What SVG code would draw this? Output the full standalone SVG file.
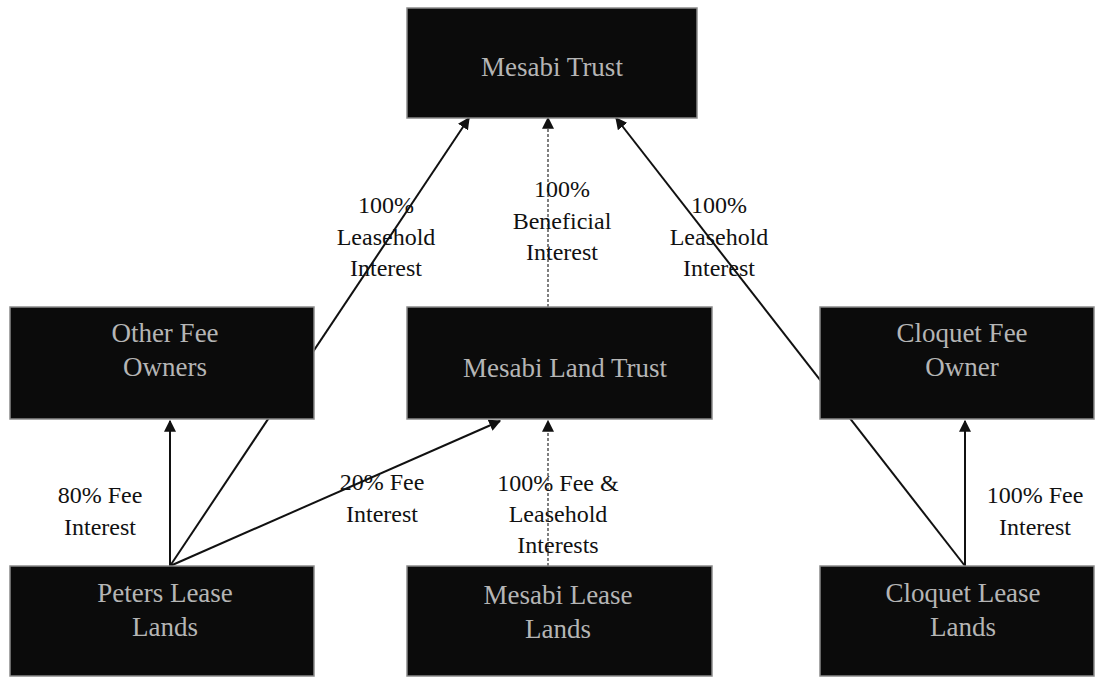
<svg xmlns="http://www.w3.org/2000/svg" width="1098" height="679" viewBox="0 0 1098 679">
<style>
.box{fill:#0b0b0b;stroke:#8a8a8a;stroke-width:1.5}
.bt{font-family:"Liberation Serif","Times New Roman",serif;font-size:27px;fill:#b5b5b5;text-anchor:middle}
.lb{font-family:"Liberation Serif","Times New Roman",serif;font-size:24px;fill:#111;text-anchor:middle}
.ln{stroke:#111;stroke-width:2;fill:none;marker-end:url(#ah)}
.dl{stroke:#555;stroke-width:1.5;stroke-dasharray:3 2;fill:none;marker-end:url(#ah)}
</style>
<defs>
<marker id="ah" viewBox="0 0 10 10" refX="9" refY="5" markerWidth="12" markerHeight="12" markerUnits="userSpaceOnUse" orient="auto">
<path d="M0,0 L10,5 L0,10 z" fill="#111"/>
</marker>
</defs>
<rect width="1098" height="679" fill="#fff"/>
<g id="connectors">
<line class="ln" x1="170" y1="566" x2="469" y2="118"/>
<line class="ln" x1="170" y1="566" x2="170" y2="421"/>
<line class="ln" x1="170" y1="566" x2="500" y2="421"/>
<line class="dl" x1="548" y1="566" x2="548" y2="421"/>
<line class="dl" x1="548" y1="307" x2="548" y2="118"/>
<line class="ln" x1="965" y1="566" x2="616" y2="118"/>
<line class="ln" x1="965" y1="566" x2="965" y2="421"/>
</g>
<g id="labels">
<text class="lb" x="386" y="213">100%</text>
<text class="lb" x="386" y="245">Leasehold</text>
<text class="lb" x="386" y="276">Interest</text>
<text class="lb" x="562" y="197">100%</text>
<text class="lb" x="562" y="229">Beneficial</text>
<text class="lb" x="562" y="260">Interest</text>
<text class="lb" x="719" y="213">100%</text>
<text class="lb" x="719" y="245">Leasehold</text>
<text class="lb" x="719" y="276">Interest</text>
<text class="lb" x="100" y="503">80% Fee</text>
<text class="lb" x="100" y="535">Interest</text>
<text class="lb" x="382" y="490">20% Fee</text>
<text class="lb" x="382" y="522">Interest</text>
<text class="lb" x="558" y="491">100% Fee &amp;</text>
<text class="lb" x="558" y="522">Leasehold</text>
<text class="lb" x="558" y="553">Interests</text>
<text class="lb" x="1035" y="503">100% Fee</text>
<text class="lb" x="1035" y="535">Interest</text>
</g>
<g id="mesabi-trust">
<rect class="box" x="407" y="8" width="290" height="110"/>
<text class="bt" x="552" y="76">Mesabi Trust</text>
</g>
<g id="other-fee-owners">
<rect class="box" x="10" y="307" width="304" height="112"/>
<text class="bt" x="165" y="342">Other Fee</text>
<text class="bt" x="165" y="376">Owners</text>
</g>
<g id="mesabi-land-trust">
<rect class="box" x="407" y="307" width="305" height="112"/>
<text class="bt" x="565" y="377">Mesabi Land Trust</text>
</g>
<g id="cloquet-fee-owner">
<rect class="box" x="820" y="307" width="274" height="112"/>
<text class="bt" x="962" y="342">Cloquet Fee</text>
<text class="bt" x="962" y="376">Owner</text>
</g>
<g id="peters-lease-lands">
<rect class="box" x="10" y="566" width="304" height="110"/>
<text class="bt" x="165" y="602">Peters Lease</text>
<text class="bt" x="165" y="636">Lands</text>
</g>
<g id="mesabi-lease-lands">
<rect class="box" x="407" y="566" width="305" height="110"/>
<text class="bt" x="558" y="604">Mesabi Lease</text>
<text class="bt" x="558" y="638">Lands</text>
</g>
<g id="cloquet-lease-lands">
<rect class="box" x="820" y="566" width="274" height="110"/>
<text class="bt" x="963" y="602">Cloquet Lease</text>
<text class="bt" x="963" y="636">Lands</text>
</g>
</svg>
